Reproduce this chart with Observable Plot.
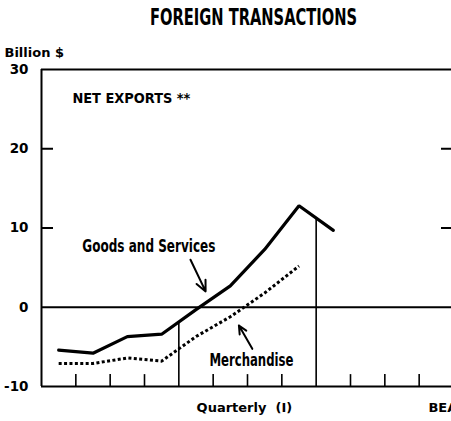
<!DOCTYPE html>
<html><head><meta charset="utf-8">
<script src="https://cdn.jsdelivr.net/npm/d3@7"></script>
<script src="https://cdn.jsdelivr.net/npm/@observablehq/plot@0.6"></script>
<style>html,body{margin:0;padding:0;background:#fff;overflow:hidden}</style>
</head><body><div id="chart"></div>
<script>
// quarter positions (midpoints of quarters, counted from the left frame)
const quarters = [0.5, 1.5, 2.5, 3.5, 4.5, 5.5, 6.5, 7.5, 8.5];
const goodsAndServices = [-5.4, -5.8, -3.7, -3.4, -0.3, 2.7, 7.3, 12.8, 9.7];
const merchandise = [-7.1, -7.1, -6.4, -6.8, -3.7, -1.2, 1.8, 5.2];
const yTickLabels = [30, 20, 10, 0, -10];
const yInnerTicks = [20, 10];
const quarterTicks = [1, 2, 3, 5, 6, 7, 9, 10, 11];
const yearBoundaries = [4, 8];
const xDomain = [0, 12];
const yDomain = [-10, 30];

// annotation texts / arrows (data coordinates)
const titleText = "FOREIGN TRANSACTIONS";
const unitText = "Billion $";
const panelText = "NET EXPORTS **";
const seriesLabels = ["Goods and Services", "Merchandise"];
const labelX = [1.19, 4.89];
const labelY = [7.65, -6.7];
const arrowFrom = [[4.34, 6.0], [6.14, -5.25]];
const arrowTo = [[4.78, 2.0], [5.75, -2.3]];
const xAxisText = "Quarterly  (I)";
const sourceText = "BEA";

const goodsData = quarters.map((q, i) => ({q, v: goodsAndServices[i]}));
const merchData = merchandise.map((v, i) => ({q: quarters[i], v}));
const interpGoods = (q) => {
  for (let i = 0; i < goodsData.length - 1; i++) {
    const a = goodsData[i], b = goodsData[i + 1];
    if (q >= a.q && q <= b.q) return a.v + (b.v - a.v) * (q - a.q) / (b.q - a.q);
  }
  return 0;
};
const dividers = yearBoundaries.map(q => ({q, top: interpGoods(q)}));
const labels = seriesLabels.map((t, i) => ({t, x: labelX[i], y: labelY[i]}));
const arrows = arrowFrom.map((f, i) => ({x1: f[0], y1: f[1], x2: arrowTo[i][0], y2: arrowTo[i][1]}));

const cond = "'Liberation Sans Narrow', 'DejaVu Sans Condensed', sans-serif";
const geo = "'DejaVu Sans', sans-serif";

const chart = Plot.plot({
  width: 451,
  height: 421,
  marginLeft: 41,
  marginRight: -2,
  marginTop: 69,
  marginBottom: 35,
  style: {background: "#fff", color: "#000", fontFamily: geo},
  x: {domain: xDomain, axis: null},
  y: {domain: yDomain, axis: null},
  marks: [
    // frame
    Plot.ruleX([0, 12], {y1: -10, y2: 30, stroke: "#000", strokeWidth: 2}),
    Plot.ruleY([30, -10], {x1: 0, x2: 12, stroke: "#000", strokeWidth: 2}),
    Plot.ruleY([0], {x1: 0, x2: 12, stroke: "#000", strokeWidth: 2}),
    // inner y ticks left and right
    Plot.ruleY(yInnerTicks, {x1: 0, x2: 0.35, stroke: "#000", strokeWidth: 2}),
    Plot.ruleY(yInnerTicks, {x1: 11.65, x2: 12, stroke: "#000", strokeWidth: 2}),
    // quarter ticks
    Plot.ruleX(quarterTicks, {y1: -10, y2: -8.5, stroke: "#000", strokeWidth: 1.6}),
    // year dividers
    Plot.ruleX(dividers, {x: "q", y1: -10, y2: "top", stroke: "#000", strokeWidth: 1.6}),
    // y labels
    Plot.axisY({ticks: yTickLabels, tickFormat: d => String(d), tickSize: 0, tickPadding: 13, fontSize: 13.5, fontWeight: "bold", fontFamily: geo}),
    // series
    Plot.line(merchData, {x: "q", y: "v", stroke: "#000", strokeWidth: 3, strokeDasharray: "3,2.4", strokeLinecap: "butt"}),
    Plot.line(goodsData, {x: "q", y: "v", stroke: "#000", strokeWidth: 3.2, strokeLinejoin: "miter"}),
    // arrows
    Plot.arrow(arrows, {x1: "x1", y1: "y1", x2: "x2", y2: "y2", stroke: "#000", strokeWidth: 2, headLength: 9, headAngle: 50}),
    // series labels
    Plot.text(labels, {x: "x", y: "y", text: "t", textAnchor: "start", fontFamily: cond, fontWeight: "bold", fontSize: 18, className: "slabel"}),
    Plot.text([panelText], {x: 0.9, y: 26.4, text: d => d, textAnchor: "start", fontFamily: cond, fontWeight: "bold", fontSize: 14, className: "panel"}),
    // title and unit
    Plot.text([titleText], {frameAnchor: "top", lineAnchor: "middle", dx: 6, dy: -52, text: d => d, fontFamily: cond, fontWeight: "bold", fontSize: 23, className: "title"}),
    Plot.text([unitText], {frameAnchor: "top-left", lineAnchor: "middle", dx: -37, dy: -17, text: d => d, textAnchor: "start", fontFamily: geo, fontWeight: "bold", fontSize: 13}),
    // x axis label and source
    Plot.text([xAxisText], {x: 5.91, frameAnchor: "bottom", lineAnchor: "middle", dy: 21, text: d => d, fontFamily: geo, fontWeight: "bold", fontSize: 13}),
    Plot.text([sourceText], {x: 11.27, frameAnchor: "bottom", lineAnchor: "middle", dy: 21, text: d => d, textAnchor: "start", fontFamily: geo, fontWeight: "bold", fontSize: 13})
  ]
});

const setLen = (sel, lens) => {
  chart.querySelectorAll(sel + " text").forEach((el, i) => {
    el.setAttribute("textLength", lens[i]);
    el.setAttribute("lengthAdjust", "spacingAndGlyphs");
  });
};
setLen(".title", [207]);
setLen(".panel", [118]);
setLen(".slabel", [133, 84]);

document.getElementById("chart").append(chart);
</script>
</body></html>
